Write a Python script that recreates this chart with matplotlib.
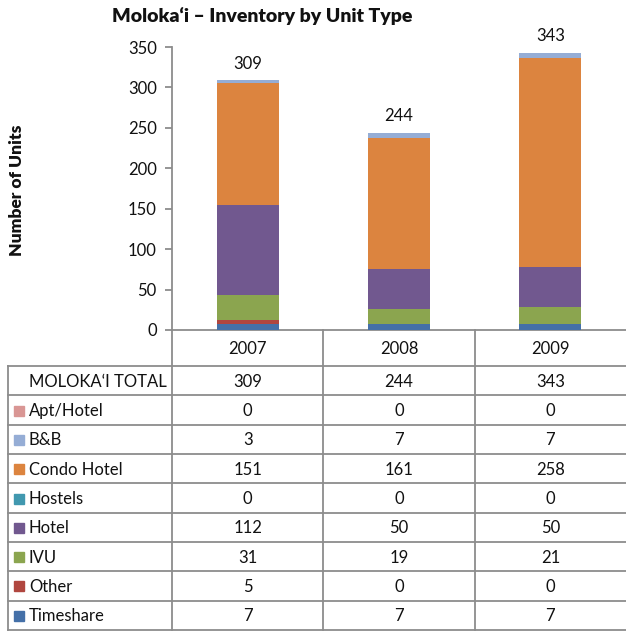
import matplotlib
matplotlib.use("Agg")
import matplotlib.pyplot as plt
from matplotlib.patches import Rectangle
import numpy as np

plt.rcParams['font.family'] = ['Lato', 'DejaVu Sans']

years = ["2007", "2008", "2009"]
categories = ["Apt/Hotel", "B&B", "Condo Hotel", "Hostels", "Hotel", "IVU", "Other", "Timeshare"]
apt_hotel = [0, 0, 0]
bnb = [3, 7, 7]
condo_hotel = [151, 161, 258]
hostels = [0, 0, 0]
hotel = [112, 50, 50]
ivu = [31, 19, 21]
other = [5, 0, 0]
timeshare = [7, 7, 7]
totals = [309, 244, 343]
colors = {"Apt/Hotel": "#D99694", "B&B": "#95ADD5", "Condo Hotel": "#DC843F",
          "Hostels": "#4198AF", "Hotel": "#71588F", "IVU": "#8BA54F",
          "Other": "#B0463F", "Timeshare": "#4470A8"}
series = {"Apt/Hotel": apt_hotel, "B&B": bnb, "Condo Hotel": condo_hotel,
          "Hostels": hostels, "Hotel": hotel, "IVU": ivu, "Other": other,
          "Timeshare": timeshare}

W, H = 626, 632
fig = plt.figure(figsize=(W/100, H/100), dpi=100)

def fx(px): return px / W
def fy(py): return 1 - py / H

ax_l, ax_r, ax_t, ax_b = 172, 626, 47, 330
ax = fig.add_axes([fx(ax_l), fy(ax_b), fx(ax_r - ax_l), (ax_b - ax_t) / H])
x = np.arange(len(years))
bottom = np.zeros(len(years))
for cat in reversed(categories):
    vals = np.array(series[cat], dtype=float)
    ax.bar(x, vals, 0.41, bottom=bottom, color=colors[cat], edgecolor='none', zorder=3)
    bottom += vals
for xi, t in zip(x, totals):
    ax.annotate(str(t), (xi, t), xytext=(0, 6), textcoords='offset points',
                ha='center', va='bottom', fontsize=12, color='#111111')
ax.set_xlim(-0.5, 2.5)
ax.set_ylim(0, 350)
ax.set_yticks(np.arange(0, 351, 50))
ax.set_xticks([])
for s in ['top', 'right']:
    ax.spines[s].set_visible(False)
for s in ['left', 'bottom']:
    ax.spines[s].set_color('#8c8c8c')
    ax.spines[s].set_linewidth(1.3)
ax.tick_params(axis='y', length=5, width=1.3, color='#8c8c8c', labelsize=12, pad=6, labelcolor='#111111')

fig.text(fx(262), fy(16), "Moloka\u2018i \u2013 Inventory by Unit Type", ha='center', va='center',
         fontsize=14, fontweight='heavy', color='#111111')
fig.text(fx(17), fy(190), "Number of Units", rotation=90, ha='center', va='center',
         fontsize=12.5, fontweight='heavy', color='#111111')

# table overlay in pixel coordinates
tax = fig.add_axes([0, 0, 1, 1], zorder=5)
tax.set_xlim(0, W)
tax.set_ylim(H, 0)
tax.axis('off')
tax.patch.set_alpha(0)

lc = '#8c8c8c'
lw = 1.3
to_px = lambda xv: ax.transData.transform((xv, 0))[0]
fig.canvas.draw()
col_edges = [to_px(v) for v in [-0.5, 0.5, 1.5, 2.5]]
left_edge = 8
year_row_bottom = 366
row_h = (630 - year_row_bottom) / 9
table_bottom = 630
row_tops = [year_row_bottom + i * row_h for i in range(10)]

tax.plot([col_edges[0]] * 2, [ax_b, table_bottom], color=lc, lw=lw)
for ce in col_edges[1:3]:
    tax.plot([ce, ce], [ax_b, table_bottom], color=lc, lw=lw)
tax.plot([left_edge, left_edge], [year_row_bottom, table_bottom], color=lc, lw=lw)
for rt in row_tops:
    tax.plot([left_edge, W], [rt, rt], color=lc, lw=lw)

centers = [(col_edges[i] + col_edges[i + 1]) / 2 for i in range(3)]
for c, yr in zip(centers, years):
    tax.text(c, (ax_b + year_row_bottom) / 2 + 1, yr, ha='center', va='center', fontsize=12, color='#111111')

rows = [("MOLOKA\u2018I TOTAL", totals, None)] + [(cat, series[cat], colors[cat]) for cat in categories]
for i, (lab, vals, col) in enumerate(rows):
    yc = row_tops[i] + row_h / 2 + 1
    if col is not None:
        tax.add_patch(Rectangle((14, yc - 5.5), 10, 10, color=col))
    tax.text(29, yc, lab, ha='left', va='center', fontsize=12, color='#111111')
    for c, v in zip(centers, vals):
        tax.text(c, yc, str(v), ha='center', va='center', fontsize=12, color='#111111')

fig.savefig("out.png", dpi=100)
